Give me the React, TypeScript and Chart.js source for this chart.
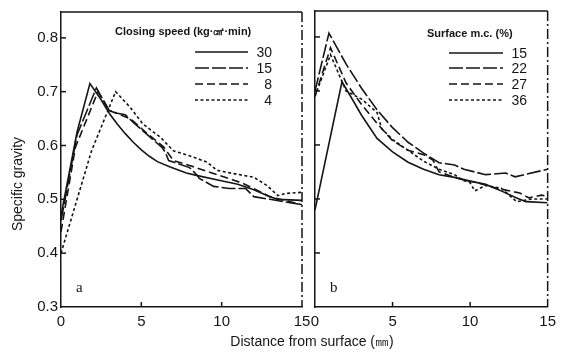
import React, { useEffect, useRef } from 'react';
import { Chart, registerables } from 'chart.js';
Chart.register(...registerables);

const X_TICKS = [0, 5, 10, 15];
const Y_TICKS = [0.3, 0.4, 0.5, 0.6, 0.7, 0.8];
const Y_MIN = 0.3;
const Y_MAX = 0.848;

// Panel a: closing speed (kg·㎠·min)
const A_TITLE = 'Closing speed (kg·㎠·min)';
const A_LABELS = ['30', '15', '8', '4'];
const A_30: [number, number][] = [
  [0, 0.47], [1, 0.625], [1.8, 0.715], [2.5, 0.685], [3, 0.66], [3.5, 0.64], [4, 0.622],
  [4.5, 0.606], [5, 0.592], [5.5, 0.58], [6, 0.57], [6.8, 0.56], [7.8, 0.549], [8.5, 0.544],
  [9.9, 0.535], [11, 0.528], [12, 0.518], [13, 0.505], [13.5, 0.5], [15, 0.498],
];
const A_15: [number, number][] = [
  [0, 0.46], [1, 0.62], [2.2, 0.707], [3, 0.665], [3.5, 0.66], [4, 0.657], [4.5, 0.643],
  [5.3, 0.622], [6.3, 0.596], [6.5, 0.587], [6.7, 0.572], [8, 0.559], [8.5, 0.544],
  [8.6, 0.539], [9.5, 0.524], [10.5, 0.52], [11.5, 0.52], [12, 0.505], [13, 0.5], [15, 0.49],
];
const A_8: [number, number][] = [
  [0, 0.44], [0.9, 0.597], [2.3, 0.7], [3, 0.665], [4.3, 0.65], [5.3, 0.624], [6.4, 0.597],
  [7, 0.572], [8, 0.563], [9.3, 0.55], [11.3, 0.53], [13, 0.505], [15, 0.49],
];
const A_4: [number, number][] = [
  [0, 0.4], [1.9, 0.59], [3.4, 0.7], [4.3, 0.671], [5.1, 0.64], [6.2, 0.615], [7, 0.59],
  [8, 0.581], [9.1, 0.569], [9.7, 0.554], [10.7, 0.548], [12, 0.541], [12.8, 0.526],
  [13.5, 0.507], [14, 0.511], [15, 0.513],
];

// Panel b: surface moisture content (%)
const B_TITLE = 'Surface m.c. (%)';
const B_LABELS = ['15', '22', '27', '36'];
const B_15: [number, number][] = [
  [0, 0.48], [1.74, 0.717], [2.5, 0.68], [3, 0.655], [4, 0.612], [5, 0.587], [6, 0.568],
  [7, 0.555], [8, 0.545], [9, 0.54], [10, 0.533], [11, 0.527], [12, 0.515], [13, 0.502],
  [13.6, 0.495], [15, 0.493],
];
const B_22: [number, number][] = [
  [0, 0.7], [0.9, 0.807], [2, 0.75], [3, 0.705], [4, 0.665], [5, 0.632], [6, 0.605],
  [7, 0.585], [8, 0.567], [9, 0.563], [9.6, 0.555], [10.3, 0.55], [11, 0.545],
  [12.3, 0.548], [12.9, 0.541], [15, 0.555],
];
const B_27: [number, number][] = [
  [0, 0.69], [1, 0.78], [2, 0.715], [3, 0.675], [4, 0.64], [5, 0.608], [6, 0.59],
  [7, 0.582], [7.6, 0.572], [8, 0.55], [9, 0.54], [9.6, 0.535], [10.5, 0.53],
  [11.7, 0.52], [13.2, 0.511], [13.8, 0.502], [14.6, 0.507], [15, 0.505],
];
const B_36: [number, number][] = [
  [0, 0.69], [1, 0.767], [2, 0.7], [3, 0.685], [4, 0.66], [4.3, 0.63], [5, 0.61],
  [6, 0.59], [7, 0.57], [8, 0.555], [9, 0.545], [9.5, 0.535], [10, 0.53], [10.3, 0.515],
  [11, 0.525], [12, 0.52], [13, 0.495], [14, 0.5], [15, 0.5],
];

const DASHES = [[], [14, 3], [8, 4], [3, 2.5]];
const INK = '#151515';
const FONT = "'Liberation Sans', Arial, sans-serif";

type PanelCfg = {
  series: [number, number][][];
  labels: string[];
  title: string;
  letter: string;
  showY: boolean;
  padLeft: number;
  padRight: number;
  yWidth: number;
  legend: { titleX: number; titleY: number; lineX0: number; lineX1: number; labelX: number; rowY: number[] };
  extra?: boolean;
};

function makeDecor(cfg: PanelCfg) {
  return {
    id: 'decor',
    afterDraw(chart: any) {
      const { ctx, chartArea: a, scales } = chart;
      ctx.save();
      ctx.strokeStyle = INK;
      ctx.fillStyle = INK;
      ctx.lineWidth = 1.5;
      const line = (x0: number, y0: number, x1: number, y1: number) => {
        ctx.beginPath();
        ctx.moveTo(x0, y0);
        ctx.lineTo(x1, y1);
        ctx.stroke();
      };
      // top border
      line(a.left, a.top, a.right, a.top);
      // right dash-dot border
      ctx.setLineDash([10, 3, 2, 3]);
      line(a.right, a.top, a.right, a.bottom);
      ctx.setLineDash([]);
      // inward ticks
      X_TICKS.slice(1, -1).forEach((v) => {
        const px = scales.x.getPixelForValue(v);
        line(px, a.bottom, px, a.bottom - 5);
      });
      Y_TICKS.slice(1).forEach((v) => {
        const py = scales.y.getPixelForValue(v);
        line(a.left, py, a.left + 5, py);
      });
      // legend
      const L = cfg.legend;
      ctx.font = `bold 11px ${FONT}`;
      ctx.textAlign = 'left';
      ctx.textBaseline = 'middle';
      ctx.fillText(cfg.title, L.titleX, L.titleY);
      ctx.font = `14px ${FONT}`;
      ctx.textAlign = 'right';
      chart.data.datasets.forEach((ds: any, i: number) => {
        const y = L.rowY[i];
        ctx.setLineDash(ds.borderDash || []);
        ctx.lineWidth = 1.6;
        line(L.lineX0, y, L.lineX1, y);
        ctx.setLineDash([]);
        ctx.fillText(ds.label, L.labelX, y + 1);
      });
      // panel letter
      ctx.font = `15px 'Liberation Serif', 'DejaVu Serif', serif`;
      ctx.textAlign = 'left';
      ctx.fillText(cfg.letter, a.left + 15, a.bottom - 19);
      if (cfg.extra) {
        // y-axis title
        ctx.save();
        ctx.translate(18, 184);
        ctx.rotate(-Math.PI / 2);
        ctx.textAlign = 'center';
        ctx.font = `14px ${FONT}`;
        ctx.fillText('Specific gravity', 0, 0);
        ctx.restore();
        // x-axis title
        ctx.textAlign = 'center';
        ctx.font = `14px ${FONT}`;
        ctx.fillText('Distance from surface (㎜)', 312, 342);
      }
      ctx.restore();
    },
  };
}

function Panel({ cfg }: { cfg: PanelCfg }) {
  const ref = useRef<HTMLCanvasElement>(null);
  useEffect(() => {
    if (!ref.current) return;
    const chart = new Chart(ref.current, {
      type: 'line',
      data: {
        datasets: cfg.series.map((s, i) => ({
          label: cfg.labels[i],
          data: s.map(([x, y]) => ({ x, y })),
          borderColor: INK,
          borderWidth: 1.6,
          borderDash: DASHES[i],
          pointRadius: 0,
          tension: 0,
          fill: false,
        })),
      },
      options: {
        animation: false,
        responsive: false,
        devicePixelRatio: 1,
        layout: { padding: { left: cfg.padLeft, right: cfg.padRight, top: 11, bottom: 0 } },
        plugins: { legend: { display: false }, tooltip: { enabled: false } },
        scales: {
          x: {
            type: 'linear',
            min: 0,
            max: 15,
            afterBuildTicks: (s: any) => {
              s.ticks = X_TICKS.map((v) => ({ value: v }));
            },
            afterFit: (s: any) => {
              s.height = 46;
            },
            grid: { display: false, drawTicks: false },
            border: { display: true, color: INK, width: 1.5 },
            ticks: {
              color: INK,
              font: { family: FONT, size: 15 },
              padding: 6,
              maxRotation: 0,
              autoSkip: false,
            },
          },
          y: {
            type: 'linear',
            min: Y_MIN,
            max: Y_MAX,
            afterBuildTicks: (s: any) => {
              s.ticks = Y_TICKS.map((v) => ({ value: v }));
            },
            afterFit: (s: any) => {
              s.width = cfg.yWidth;
            },
            grid: { display: false, drawTicks: false },
            border: { display: true, color: INK, width: 1.5 },
            ticks: {
              display: cfg.showY,
              color: INK,
              font: { family: FONT, size: 15 },
              padding: 3,
              callback: (v: any) => Number(v).toFixed(1),
            },
          },
        },
      },
      plugins: [makeDecor(cfg)],
    } as any);
    return () => chart.destroy();
  }, []);
  return (
    <canvas
      ref={ref}
      width={562}
      height={353}
      style={{ position: 'absolute', left: 0, top: 0, width: 562, height: 353 }}
    />
  );
}

const PANEL_A: PanelCfg = {
  series: [A_30, A_15, A_8, A_4],
  labels: A_LABELS,
  title: A_TITLE,
  letter: 'a',
  showY: true,
  padLeft: 0,
  padRight: 260,
  yWidth: 61,
  legend: { titleX: 115, titleY: 32, lineX0: 195, lineX1: 248, labelX: 272, rowY: [52, 68, 84, 100] },
  extra: true,
};

const PANEL_B: PanelCfg = {
  series: [B_15, B_22, B_27, B_36],
  labels: B_LABELS,
  title: B_TITLE,
  letter: 'b',
  showY: false,
  padLeft: 305,
  padRight: 6,
  yWidth: 10,
  legend: { titleX: 427, titleY: 34, lineX0: 449, lineX1: 503, labelX: 527, rowY: [53, 68, 84, 100] },
};

export default function App() {
  return (
    <div style={{ position: 'fixed', left: 0, top: 0, width: 562, height: 353, background: '#fff' }}>
      <Panel cfg={PANEL_A} />
      <Panel cfg={PANEL_B} />
    </div>
  );
}
